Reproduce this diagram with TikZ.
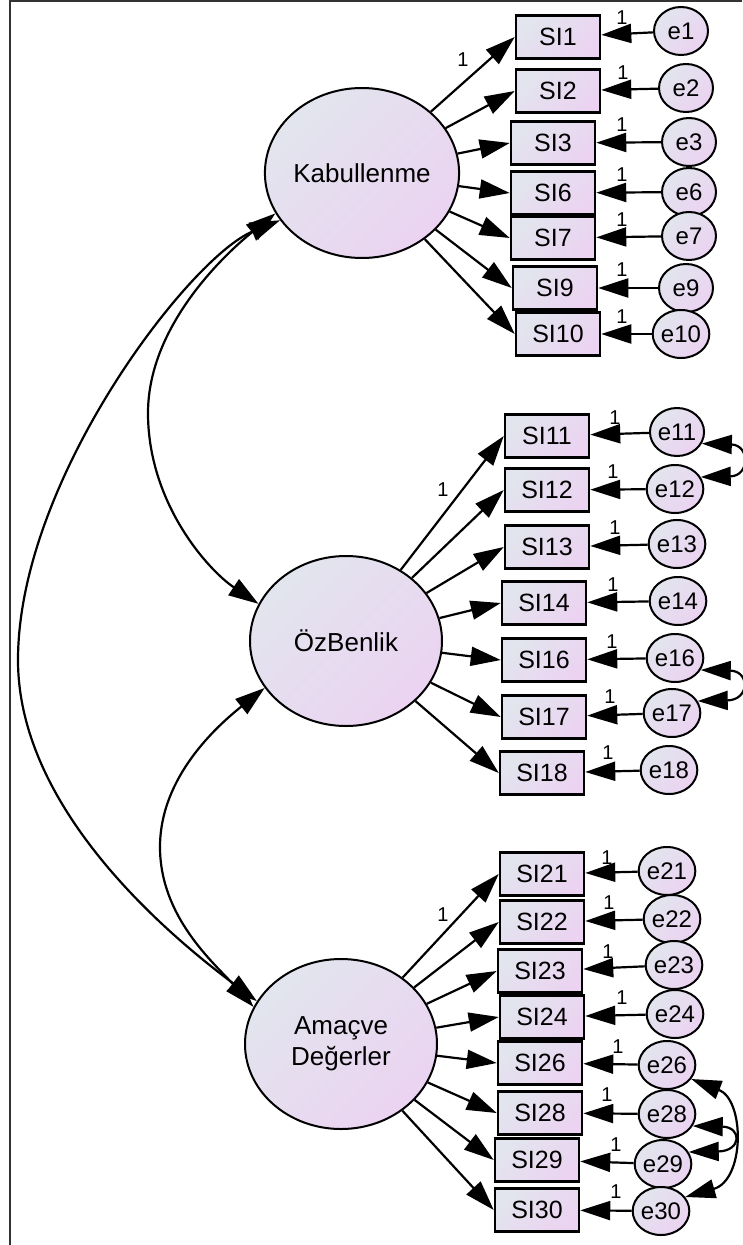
\documentclass[tikz,border=0pt]{standalone}
\usepackage{fontspec}
\setmainfont{Liberation Sans}
\usetikzlibrary{shapes.geometric,arrows.meta}
\definecolor{fillA}{HTML}{E2E5EE}
\definecolor{fillB}{HTML}{EBD3F1}
\tikzset{
  tip/.tip={Triangle[length=30pt,width=19pt]}
}
\begin{document}
\begin{tikzpicture}[x=1pt,y=-1pt,
  grad/.style={top color=fillA,bottom color=fillB,shading angle=45},
  latent/.style={ellipse,draw,line width=2pt,grad,minimum width=192pt,minimum height=170pt,inner sep=0pt,font=\fontsize{26}{31}\selectfont,align=center},
  obs/.style={rectangle,draw,line width=2.5pt,grad,minimum width=84pt,minimum height=43pt,inner sep=0pt,font=\fontsize{25}{30}\selectfont},
  err/.style={ellipse,draw,line width=2pt,grad,minimum width=54pt,minimum height=48pt,inner sep=0pt,font=\fontsize{24}{28}\selectfont},
  arr/.style={line width=2.2pt,-tip},
  cov/.style={line width=2.2pt,tip-tip},
  lab/.style={font=\fontsize{20}{24}\selectfont,inner sep=0pt},
  frame/.style={line width=1.5pt,draw=black!80}
]
\useasboundingbox (0,0) rectangle (742,1245);
\draw[frame] (10,1245) -- (10,1) -- (742,1);

% latent variables
\node[latent] (K) at (362,173) {Kabullenme};
\node[latent] (Z) at (346,641) {ÖzBenlik};
\node[latent] (A) at (341,1044) {Amaçve\\Değerler};

% group 1
\node[obs] (SI1) at (558,37) {SI1};
\node[obs] (SI2) at (558,91) {SI2};
\node[obs] (SI3) at (553,143) {SI3};
\node[obs] (SI6) at (553,193) {SI6};
\node[obs] (SI7) at (553,238) {SI7};
\node[obs] (SI9) at (555,288) {SI9};
\node[obs] (SI10) at (558,334) {SI10};
\node[err] (e1) at (681,31) {e1};
\node[err] (e2) at (686,88) {e2};
\node[err] (e3) at (689,142) {e3};
\node[err] (e6) at (689,192) {e6};
\node[err] (e7) at (689,236) {e7};
\node[err] (e9) at (686,288) {e9};
\node[err] (e10) at (681,334) {e10};

% group 2
\node[obs] (SI11) at (547,436) {SI11};
\node[obs] (SI12) at (547,490) {SI12};
\node[obs] (SI13) at (547,547) {SI13};
\node[obs] (SI14) at (544,603) {SI14};
\node[obs] (SI16) at (544,660) {SI16};
\node[obs] (SI17) at (544,717) {SI17};
\node[obs] (SI18) at (542,773) {SI18};
\node[err] (e11) at (677,432) {e11};
\node[err] (e12) at (675,489) {e12};
\node[err] (e13) at (677,544) {e13};
\node[err] (e14) at (678,601) {e14};
\node[err] (e16) at (675,658) {e16};
\node[err] (e17) at (672,713) {e17};
\node[err] (e18) at (669,770) {e18};

% group 3
\node[obs] (SI21) at (542,874) {SI21};
\node[obs] (SI22) at (542,922) {SI22};
\node[obs] (SI23) at (540,971) {SI23};
\node[obs] (SI24) at (542,1017) {SI24};
\node[obs] (SI26) at (540,1063) {SI26};
\node[obs] (SI28) at (540,1113) {SI28};
\node[obs] (SI29) at (537,1160) {SI29};
\node[obs] (SI30) at (537,1210) {SI30};
\node[err] (e21) at (667,871) {e21};
\node[err] (e22) at (672,919) {e22};
\node[err] (e23) at (674,965) {e23};
\node[err] (e24) at (675,1014) {e24};
\node[err] (e26) at (667,1065) {e26};
\node[err] (e28) at (667,1114) {e28};
\node[err] (e29) at (663,1164) {e29};
\node[err] (e30) at (661,1211) {e30};

% loadings
\foreach \s in {SI1,SI2,SI3,SI6,SI7,SI9,SI10} \draw[arr] (K) -- (\s.west);
\foreach \s in {SI11,SI12,SI13,SI14,SI16,SI17,SI18} \draw[arr] (Z) -- (\s.west);
\foreach \s in {SI21,SI22,SI23,SI24,SI26,SI28,SI29,SI30} \draw[arr] (A) -- (\s.west);

% error paths
\foreach \e/\s in {e1/SI1,e2/SI2,e3/SI3,e6/SI6,e7/SI7,e9/SI9,e10/SI10,
  e11/SI11,e12/SI12,e13/SI13,e14/SI14,e16/SI16,e17/SI17,e18/SI18,
  e21/SI21,e22/SI22,e23/SI23,e24/SI24,e26/SI26,e28/SI28,e29/SI29,e30/SI30}
  \draw[arr] (\e) -- (\s);

% labels
\foreach \x/\y in {463/60,443/490,443/915,
  622/18,623/73,622/125,622/175,622/220,622/270,622/317,
  615/418,613/472,615/528,613/585,612/642,610/697,608/753,
  607/858,609/903,608/952,622/998,618/1047,607/1095,616/1145,616/1192}
  \node[lab] at (\x,\y) {1};

% latent covariances
\draw[cov] (K.205) .. controls (230,250) and (148,323) .. (148,413)
  .. controls (148,503) and (208,570) .. (Z.157);
\draw[cov] (Z.210) .. controls (217,726) and (160,777) .. (160,847)
  .. controls (160,917) and (214,963) .. (A.157);
\draw[cov] (K.210) .. controls (190,257) and (18,480) .. (18,660)
  .. controls (18,810) and (170,936) .. (A.153);

% error covariances
\draw[cov] (e11.-25) .. controls (750,445) and (750,476) .. (e12.25);
\draw[cov] (e16.-25) .. controls (750,671) and (750,700) .. (e17.25);
\draw[cov] (e28.-25) .. controls (742,1127) and (742,1151) .. (e29.25);
\draw[cov] (e26.-30) .. controls (745,1100) and (745,1180) .. (e30.30);
\end{tikzpicture}
\end{document}
